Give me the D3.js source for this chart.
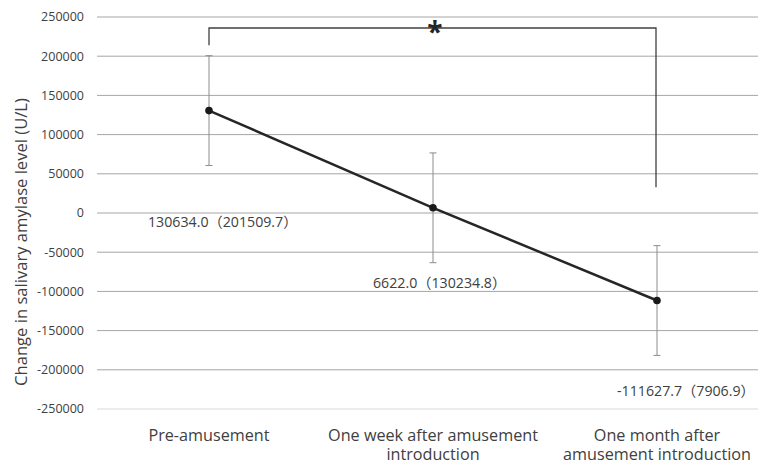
<!DOCTYPE html>
<html>
<head>
<meta charset="utf-8">
<script src="https://cdn.jsdelivr.net/npm/d3@7"></script>
<style>
  body { margin: 0; background: #fff; }
  svg { display: block; font-family: "Open Sans", "Noto Sans CJK JP", sans-serif; }
</style>
</head>
<body>
<div id="chart"></div>
<script>
'use strict';

// data
const categories = ['Pre-amusement', 'One week after amusement introduction', 'One month after amusement introduction'];
const categoryLines = [['Pre-amusement'], ['One week after amusement', 'introduction'], ['One month after', 'amusement introduction']];
const means = [130634.0, 6622.0, -111627.7];
const errors = [70000, 70000, 70000];
const valueLabels = ['130634.0（201509.7）', '6622.0（130234.8）', '-111627.7（7906.9）'];
const yTicks = [250000, 200000, 150000, 100000, 50000, 0, -50000, -100000, -150000, -200000, -250000];
// significance bracket: [left end, top, right end] in data values
const bracketValues = [214000, 236000, 33000];

const width = 758;
const height = 466;
const margin = { top: 17, right: -11, bottom: 57, left: 97 };
const chartWidth = width - margin.left - margin.right;
const chartHeight = height - margin.top - margin.bottom;

const svg = d3.select('#chart')
    .append('svg')
    .attr('width', width)
    .attr('height', height);

const chart = svg.append('g')
    .attr('transform', `translate(${margin.left},${margin.top})`);

const xScale = d3.scalePoint()
    .domain(categories)
    .range([0, chartWidth])
    .padding(0.5);

const yScale = d3.scaleLinear()
    .domain([-250000, 250000])
    .range([chartHeight, 0]);

// gridlines
chart.selectAll('line.grid')
    .data(yTicks)
    .join('line')
    .attr('class', 'grid')
    .attr('x1', 0)
    .attr('x2', width - margin.left)
    .attr('y1', function (d) { return yScale(d); })
    .attr('y2', function (d) { return yScale(d); })
    .attr('stroke', function (d) { return d === -250000 ? '#d9d9d9' : '#a6a6a6'; })
    .attr('stroke-width', 1);

// y tick labels
chart.selectAll('text.ytick')
    .data(yTicks)
    .join('text')
    .attr('class', 'ytick')
    .attr('x', -13)
    .attr('y', function (d) { return yScale(d); })
    .attr('dy', '0.35em')
    .attr('text-anchor', 'end')
    .attr('font-size', 12.5)
    .attr('fill', '#404040')
    .text(function (d) { return d; });

// axis title
svg.append('text')
    .attr('transform', 'rotate(-90)')
    .attr('x', -242)
    .attr('y', 27)
    .attr('text-anchor', 'middle')
    .attr('font-size', 16.6)
    .attr('fill', '#404040')
    .text('Change in salivary amylase level (U/L)');

// category labels
const catLabels = chart.selectAll('text.xcat')
    .data(categories)
    .join('text')
    .attr('class', 'xcat')
    .attr('x', function (d) { return xScale(d); })
    .attr('y', chartHeight + 32)
    .attr('text-anchor', 'middle')
    .attr('font-size', 16.2)
    .attr('fill', '#404040');

catLabels.selectAll('tspan')
    .data(function (d, i) { return categoryLines[i]; })
    .join('tspan')
    .attr('x', function () { return xScale(d3.select(this.parentNode).datum()); })
    .attr('dy', function (d, i) { return i === 0 ? 0 : 19; })
    .text(function (d) { return d; });

const points = categories.map(function (c, i) {
    return { cat: c, mean: means[i], err: errors[i], label: valueLabels[i] };
});

// error bars
chart.selectAll('line.err')
    .data(points)
    .join('line')
    .attr('class', 'err')
    .attr('x1', function (d) { return xScale(d.cat); })
    .attr('x2', function (d) { return xScale(d.cat); })
    .attr('y1', function (d) { return yScale(d.mean + d.err); })
    .attr('y2', function (d) { return yScale(d.mean - d.err); })
    .attr('stroke', '#8c8c8c')
    .attr('stroke-width', 1);

chart.selectAll('line.cap')
    .data(points.flatMap(function (d) { return [{ cat: d.cat, v: d.mean + d.err }, { cat: d.cat, v: d.mean - d.err }]; }))
    .join('line')
    .attr('class', 'cap')
    .attr('x1', function (d) { return xScale(d.cat) - 3.5; })
    .attr('x2', function (d) { return xScale(d.cat) + 3.5; })
    .attr('y1', function (d) { return yScale(d.v); })
    .attr('y2', function (d) { return yScale(d.v); })
    .attr('stroke', '#8c8c8c')
    .attr('stroke-width', 1);

// main line
const lineGen = d3.line()
    .x(function (d) { return xScale(d.cat); })
    .y(function (d) { return yScale(d.mean); });

chart.append('path')
    .datum(points)
    .attr('fill', 'none')
    .attr('stroke', '#262626')
    .attr('stroke-width', 2.5)
    .attr('d', lineGen);

chart.selectAll('circle.pt')
    .data(points)
    .join('circle')
    .attr('class', 'pt')
    .attr('cx', function (d) { return xScale(d.cat); })
    .attr('cy', function (d) { return yScale(d.mean); })
    .attr('r', 3.8)
    .attr('fill', '#1a1a1a');

// value labels
const labelOffsets = [{ dx: -61, v: -12000 }, { dx: -60, v: -89000 }, { dx: -40, v: -227000 }];
chart.selectAll('text.vlabel')
    .data(points)
    .join('text')
    .attr('class', 'vlabel')
    .attr('x', function (d, i) { return xScale(d.cat) + labelOffsets[i].dx; })
    .attr('y', function (d, i) { return yScale(labelOffsets[i].v); })
    .attr('dy', '0.35em')
    .attr('font-size', 14.2)
    .attr('text-anchor', 'start')
    .attr('fill', '#404040')
    .text(function (d) { return d.label; });

// significance bracket
const bx1 = xScale(categories[0]);
const bx2 = xScale(categories[2]) - 1;
chart.append('path')
    .attr('fill', 'none')
    .attr('stroke', '#404040')
    .attr('stroke-width', 1.3)
    .attr('d', `M${bx1},${yScale(bracketValues[0])}V${yScale(bracketValues[1])}H${bx2}V${yScale(bracketValues[2])}`);

chart.append('text')
    .attr('x', xScale(categories[1]) + 2)
    .attr('y', yScale(bracketValues[1]) + 14)
    .attr('text-anchor', 'middle')
    .attr('font-size', 28)
    .attr('font-weight', 700)
    .attr('fill', '#262626')
    .text('*');
</script>
</body>
</html>
